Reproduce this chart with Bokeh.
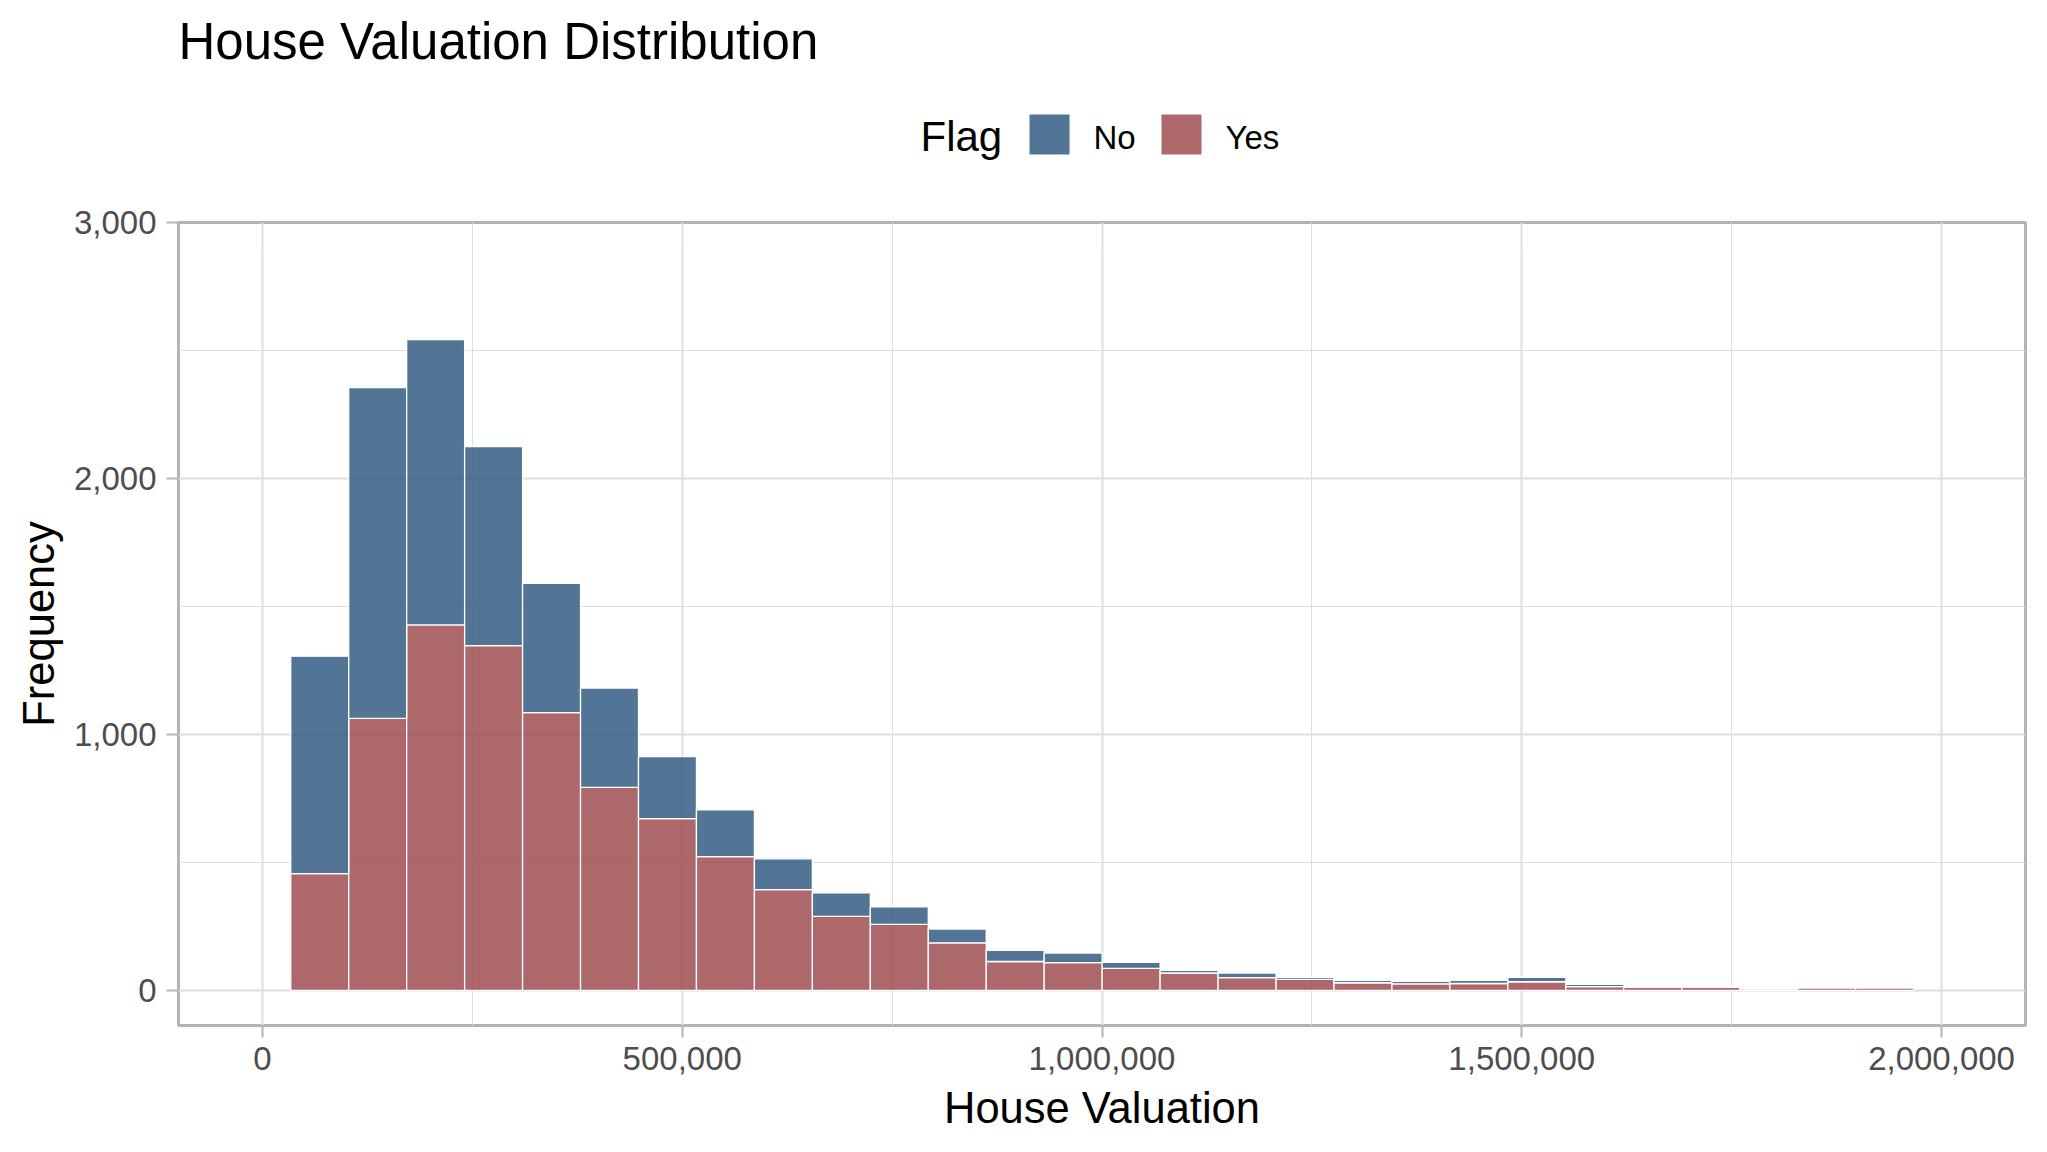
from bokeh.plotting import figure
from bokeh.layouts import column
from bokeh.models import Range1d, FixedTicker, NumeralTickFormatter, ColumnDataSource
from bokeh.core.properties import value
from bokeh.embed import file_html
from bokeh.resources import INLINE

# ---- data ----
bin_start = 33700
bin_width = 69035
no_counts = [850, 1292, 1115, 778, 505, 388, 242, 182, 120, 92, 69, 54, 44, 37,
             24, 10, 18, 8, 9, 9, 12, 17, 9, 0, 0, 0, 0, 0]
yes_counts = [456, 1063, 1428, 1347, 1085, 793, 671, 523, 394, 289, 258, 186, 113, 109,
              86, 68, 50, 43, 30, 26, 27, 34, 15, 13, 13, 6, 10, 10]
flag_levels = ["No", "Yes"]
x_ticks = [0, 500000, 1000000, 1500000, 2000000]
x_minor = [250000, 750000, 1250000, 1750000]
y_ticks = [0, 1000, 2000, 3000]
y_minor = [500, 1500, 2500]

title_text = "House Valuation Distribution"
x_label = "House Valuation"
y_label = "Frequency"
legend_title = "Flag"

blue = "#27527A"
red = "#984246"
alpha = 0.8
FONT = "Liberation Sans"

n = len(yes_counts)
lefts = [bin_start + i * bin_width for i in range(n)]
rights = [l + bin_width for l in lefts]
totals = [a + b for a, b in zip(no_counts, yes_counts)]
zeros = [0] * n

W = 2040
BL, BR = 178, 15          # frame borders (left / right), shared by both figures
TOP_H = 192
MAIN_H = 950

# ---- header figure: title + legend (pixel coordinates) ----
head = figure(width=W, height=TOP_H, x_range=Range1d(BL, W - BR), y_range=Range1d(TOP_H, 0),
              x_axis_type=None, y_axis_type=None, toolbar_location=None,
              output_backend="svg", min_border_left=BL, min_border_right=BR,
              min_border_top=0, min_border_bottom=0)
head.grid.visible = False
head.outline_line_color = None
head.background_fill_color = "white"
head.border_fill_color = "white"

head.text(x=[178], y=[41], text=[title_text], text_font=value(FONT),
          text_font_size=value("51px"), text_baseline="alphabetic", text_align="left",
          text_color="black")
head.text(x=[920], y=[136], text=[legend_title], text_font=value(FONT),
          text_font_size=value("42px"), text_baseline="alphabetic", text_align="left",
          text_color="black")
head.quad(left=[1029], right=[1069], top=[114], bottom=[154], fill_color=blue,
          fill_alpha=alpha, line_color=None)
head.text(x=[1093], y=[136.5], text=[flag_levels[0]], text_font=value(FONT),
          text_font_size=value("33px"), text_baseline="alphabetic", text_align="left",
          text_color="black")
head.quad(left=[1161], right=[1201], top=[114], bottom=[154], fill_color=red,
          fill_alpha=alpha, line_color=None)
head.text(x=[1225], y=[136.5], text=[flag_levels[1]], text_font=value(FONT),
          text_font_size=value("33px"), text_baseline="alphabetic", text_align="left",
          text_color="black")

# ---- main histogram ----
p = figure(width=W, height=MAIN_H, x_range=Range1d(-100000, 2100000),
           y_range=Range1d(-137, 3000), toolbar_location=None, output_backend="svg",
           min_border_left=BL, min_border_right=BR, min_border_top=30,
           min_border_bottom=117)
p.background_fill_color = "white"
p.border_fill_color = "white"
p.outline_line_color = "#B3B3B3"
p.outline_line_width = 3

src = ColumnDataSource(dict(left=lefts, right=rights, yes=yes_counts, total=totals, zero=zeros))
p.quad(left="left", right="right", bottom="zero", top="yes", source=src,
       fill_color=red, fill_alpha=alpha, line_color="white", line_width=1.3)
p.quad(left="left", right="right", bottom="yes", top="total", source=src,
       fill_color=blue, fill_alpha=alpha, line_color="white", line_width=1.3)

p.xaxis.ticker = FixedTicker(ticks=x_ticks, minor_ticks=x_minor)
p.yaxis.ticker = FixedTicker(ticks=y_ticks, minor_ticks=y_minor)
p.xaxis.formatter = NumeralTickFormatter(format="0,0")
p.yaxis.formatter = NumeralTickFormatter(format="0,0")

for ax in (p.xaxis[0], p.yaxis[0]):
    ax.axis_line_color = None
    ax.major_tick_line_color = "#B3B3B3"
    ax.major_tick_line_width = 2
    ax.major_tick_out = 12
    ax.major_tick_in = 0
    ax.minor_tick_line_color = None
    ax.major_label_text_font = FONT
    ax.major_label_text_font_size = "33px"
    ax.major_label_text_color = "#4D4D4D"
    ax.axis_label_text_font = FONT
    ax.axis_label_text_font_size = "43.5px"
    ax.axis_label_text_font_style = "normal"
    ax.axis_label_text_color = "black"

p.xaxis.axis_label = x_label
p.yaxis.axis_label = y_label
p.xaxis.major_label_standoff = 9
p.xaxis.axis_label_standoff = 11
p.yaxis.major_label_standoff = 10
p.yaxis.axis_label_standoff = 8

for g in (p.xgrid[0], p.ygrid[0]):
    g.grid_line_color = "#DEDEDE"
    g.grid_line_width = 2
    g.minor_grid_line_color = "#DEDEDE"
    g.minor_grid_line_width = 1

layout = column(head, p, spacing=0)
open("out.html", "w").write(file_html(layout, INLINE))
